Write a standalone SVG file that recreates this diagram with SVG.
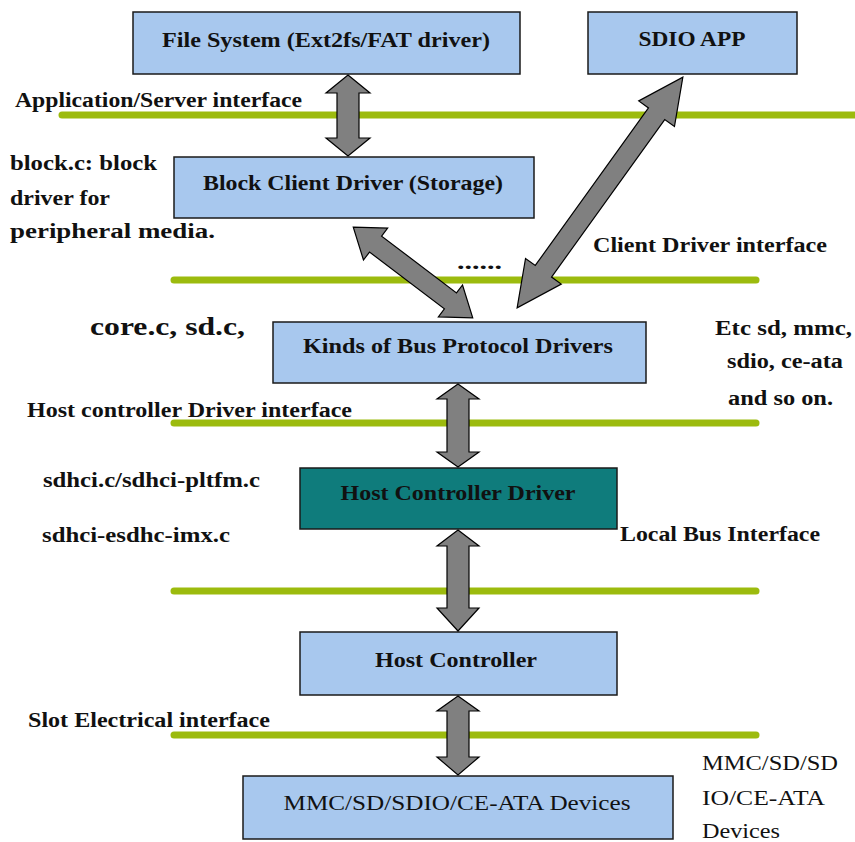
<svg xmlns="http://www.w3.org/2000/svg" width="855" height="842" viewBox="0 0 855 842">
<style>
text { font-family: "Liberation Serif", "Times New Roman", serif; font-weight: bold; fill: #111; }
.lbl { font-size: 20px; text-anchor: middle; }
.side { font-size: 20px; }
.reg { font-weight: normal; }
.box { fill: #a8c8ee; stroke: #1a1a1a; stroke-width: 1.5; }
.teal { fill: #0f7c7c; stroke: #1a1a1a; stroke-width: 1.5; }
.bus { stroke: #9cbb0e; stroke-width: 7; stroke-linecap: round; fill: none; }
.arrow { fill: #808080; stroke: #000; stroke-width: 1.2; stroke-linejoin: miter; }
</style>
<rect width="855" height="842" fill="#fff"/>

<g id="interfaces">
  <line class="bus" x1="62" y1="115" x2="858" y2="115"/>
  <line class="bus" x1="174" y1="280" x2="756" y2="280"/>
  <line class="bus" x1="174" y1="423" x2="756" y2="423"/>
  <line class="bus" x1="174" y1="591" x2="756" y2="591"/>
  <line class="bus" x1="174" y1="735" x2="756" y2="735"/>
</g>

<g id="file-system">
  <rect class="box" x="133" y="12" width="387" height="62"/>
  <text class="lbl" x="326" y="47" textLength="328" lengthAdjust="spacingAndGlyphs">File System (Ext2fs/FAT driver)</text>
</g>
<g id="sdio-app">
  <rect class="box" x="588" y="12" width="209" height="62"/>
  <text class="lbl" x="692" y="46" textLength="107" lengthAdjust="spacingAndGlyphs">SDIO APP</text>
</g>
<g id="block-client-driver">
  <rect class="box" x="174" y="157" width="360" height="61"/>
  <text class="lbl" x="353" y="190" textLength="300" lengthAdjust="spacingAndGlyphs">Block Client Driver (Storage)</text>
</g>
<g id="bus-protocol-drivers">
  <rect class="box" x="273" y="322" width="373" height="61"/>
  <text class="lbl" x="458" y="353" textLength="310" lengthAdjust="spacingAndGlyphs">Kinds of Bus Protocol Drivers</text>
</g>
<g id="host-controller-driver">
  <rect class="teal" x="300" y="468" width="317" height="61"/>
  <text class="lbl" x="458" y="500" textLength="235" lengthAdjust="spacingAndGlyphs">Host Controller Driver</text>
</g>
<g id="host-controller">
  <rect class="box" x="300" y="632" width="317" height="63"/>
  <text class="lbl" x="456" y="667" textLength="162" lengthAdjust="spacingAndGlyphs">Host Controller</text>
</g>
<g id="devices">
  <rect class="box" x="243" y="776" width="430" height="63"/>
  <text class="lbl reg" x="457" y="810" textLength="347" lengthAdjust="spacingAndGlyphs">MMC/SD/SDIO/CE-ATA Devices</text>
</g>

<g id="connectors">
  <polygon class="arrow" points="348,75 370,93 359,93 359,138 370,138 348,156 326,138 337,138 337,93 326,93"/>
  <polygon class="arrow" points="458,384 479,399 469,399 469,452 479,452 458,467 437,452 447,452 447,399 437,399"/>
  <polygon class="arrow" points="458,530 479,546 469,546 469,608 479,608 458,631 437,608 447,608 447,546 437,546"/>
  <polygon class="arrow" points="458,696 479,711 469,711 469,757 479,757 458,775 437,757 447,757 447,711 437,711"/>
  <path class="arrow" transform="translate(600,192.5) rotate(-54.3)" d="M-142,0 L-97,-22 L-97,-10 L97,-10 L97,-22 L142,0 L97,22 L97,10 L-97,10 L-97,22 Z"/>
  <path class="arrow" transform="translate(413,272.5) rotate(37.2)" d="M-75,0 L-47,-20 L-47,-10 L47,-10 L47,-20 L75,0 L47,20 L47,10 L-47,10 L-47,20 Z"/>
</g>

<g id="labels">
  <text class="side" x="15" y="107" textLength="287" lengthAdjust="spacingAndGlyphs">Application/Server interface</text>
  <text class="side" x="10" y="170" textLength="147" lengthAdjust="spacingAndGlyphs">block.c: block</text>
  <text class="side" x="10" y="205" textLength="100" lengthAdjust="spacingAndGlyphs">driver for</text>
  <text class="side" x="10" y="238" textLength="205" lengthAdjust="spacingAndGlyphs">peripheral media.</text>
  <text class="side" x="593" y="252" textLength="234" lengthAdjust="spacingAndGlyphs">Client Driver interface</text>
  <text class="side" x="457" y="269" textLength="45" lengthAdjust="spacingAndGlyphs">......</text>
  <text x="90" y="335" font-size="26" textLength="155" lengthAdjust="spacingAndGlyphs">core.c, sd.c,</text>
  <text class="side" x="715" y="335" textLength="137" lengthAdjust="spacingAndGlyphs">Etc sd, mmc,</text>
  <text class="side" x="727" y="368" textLength="116" lengthAdjust="spacingAndGlyphs">sdio, ce-ata</text>
  <text class="side" x="728" y="405" textLength="105" lengthAdjust="spacingAndGlyphs">and so on.</text>
  <text class="side" x="27" y="417" textLength="325" lengthAdjust="spacingAndGlyphs">Host controller Driver interface</text>
  <text class="side" x="43" y="487" textLength="217" lengthAdjust="spacingAndGlyphs">sdhci.c/sdhci-pltfm.c</text>
  <text class="side" x="42" y="542" textLength="188" lengthAdjust="spacingAndGlyphs">sdhci-esdhc-imx.c</text>
  <text class="side" x="620" y="541" textLength="200" lengthAdjust="spacingAndGlyphs">Local Bus Interface</text>
  <text class="side" x="28" y="727" textLength="242" lengthAdjust="spacingAndGlyphs">Slot Electrical interface</text>
  <text class="side reg" x="702" y="770" textLength="136" lengthAdjust="spacingAndGlyphs">MMC/SD/SD</text>
  <text class="side reg" x="702" y="805" textLength="123" lengthAdjust="spacingAndGlyphs">IO/CE-ATA</text>
  <text class="side reg" x="702" y="838" textLength="78" lengthAdjust="spacingAndGlyphs">Devices</text>
</g>
</svg>
